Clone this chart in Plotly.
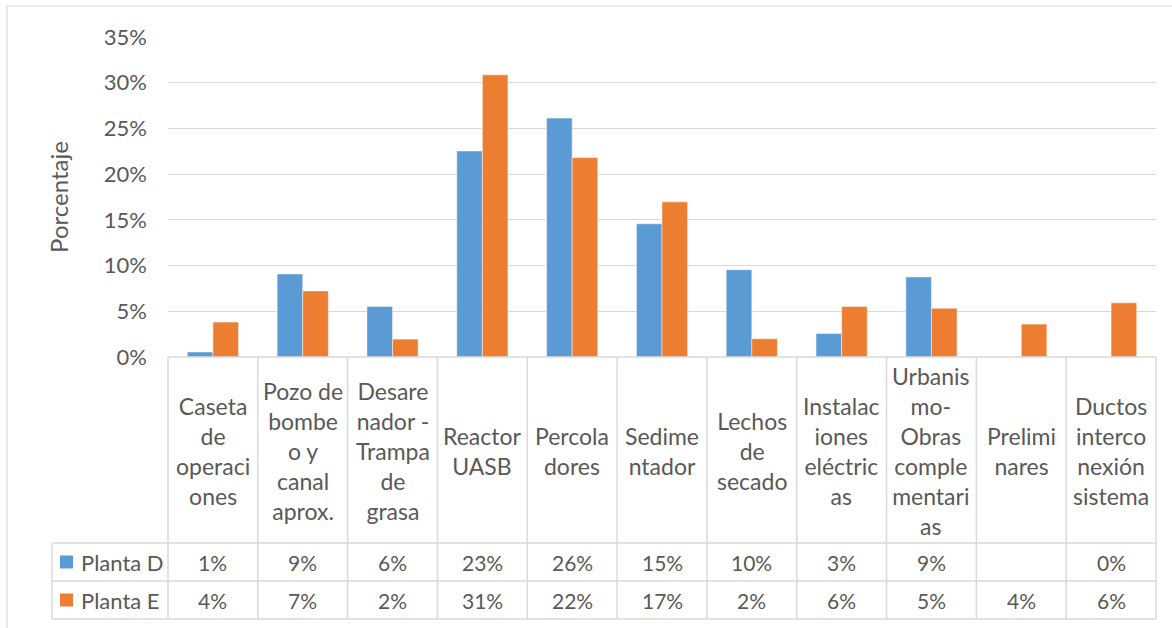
import plotly.graph_objects as go

# ---------------- data ----------------
categories = [
    "Caseta<br>de<br>operaci<br>ones",
    "Pozo de<br>bombe<br>o y<br>canal<br>aprox.",
    "Desare<br>nador -<br>Trampa<br>de<br>grasa",
    "Reactor<br>UASB",
    "Percola<br>dores",
    "Sedime<br>ntador",
    "Lechos<br>de<br>secado",
    "Instalac<br>iones<br>eléctric<br>as",
    "Urbanis<br>mo-<br>Obras<br>comple<br>mentari<br>as",
    "Prelimi<br>nares",
    "Ductos<br>interco<br>nexión<br>sistema",
]
planta_d = [0.0055, 0.0908, 0.0552, 0.2253, 0.2613, 0.1457, 0.0955, 0.0257, 0.0876, None, 0.0]
planta_e = [0.0382, 0.0723, 0.0196, 0.3086, 0.2181, 0.1697, 0.0200, 0.0552, 0.0534, 0.0360, 0.0592]
series_names = ["Planta D", "Planta E"]
series_colors = ["#5B9BD5", "#ED7D31"]
y_ticks = [0, 0.05, 0.10, 0.15, 0.20, 0.25, 0.30, 0.35]

# ---------------- layout helpers ----------------
W, H = 1172, 628
L, R, T, B = 168, 1156, 37, 357
FONT = "Lato, Carlito, Calibri, sans-serif"
TXT = "#595959"
GRID = "#D9D9D9"


def px2x(px):
    return (px - L) / (R - L)


def py2y(py):
    return (B - py) / (B - T)


fig = go.Figure()
for name, vals, col in zip(series_names, [planta_d, planta_e], series_colors):
    fig.add_trace(go.Bar(
        x=categories, y=vals, name=name,
        marker=dict(color=col, line=dict(color="rgba(255,255,255,0.6)", width=0.8)),
        showlegend=False, hoverinfo="skip",
    ))

shapes = []
annotations = []
n = len(categories)

# outer chart border
shapes.append(dict(type="rect", xref="paper", yref="paper",
                   x0=px2x(7), x1=px2x(1190), y0=py2y(6), y1=py2y(650),
                   line=dict(color=GRID, width=1.2), fillcolor="rgba(0,0,0,0)", layer="below"))

# data table grid
row_tops = [357, 543, 581, 619]
for i in range(n + 1):
    shapes.append(dict(type="line", xref="paper", yref="paper",
                       x0=i / n, x1=i / n, y0=py2y(357), y1=py2y(619),
                       line=dict(color=GRID, width=1.5)))
for yy in row_tops:
    x0 = 0 if yy == 357 else px2x(52)
    shapes.append(dict(type="line", xref="paper", yref="paper",
                       x0=x0, x1=1, y0=py2y(yy), y1=py2y(yy),
                       line=dict(color=GRID, width=1.5)))
shapes.append(dict(type="line", xref="paper", yref="paper",
                   x0=px2x(52), x1=px2x(52), y0=py2y(543), y1=py2y(619),
                   line=dict(color=GRID, width=1.5)))

# header labels
for c in categories:
    annotations.append(dict(xref="x", yref="paper", x=c, y=py2y(451),
                            text=c, showarrow=False, yanchor="middle", xanchor="center",
                            font=dict(family=FONT, size=23, color=TXT)))

# table values + legend keys
row_centers = [562, 600]
for name, vals, col, yc in zip(series_names, [planta_d, planta_e], series_colors, row_centers):
    for c, v in zip(categories, vals):
        txt = "" if v is None else f"{round(v * 100)}%"
        annotations.append(dict(xref="x", yref="paper", x=c, y=py2y(yc),
                                text=txt, showarrow=False, yanchor="middle",
                                font=dict(family=FONT, size=21, color=TXT)))
    shapes.append(dict(type="rect", xref="paper", yref="paper",
                       x0=px2x(60), x1=px2x(73), y0=py2y(yc - 6.5), y1=py2y(yc + 6.5),
                       fillcolor=col, line=dict(width=0)))
    annotations.append(dict(xref="paper", yref="paper", x=px2x(79), y=py2y(yc),
                            text=name, showarrow=False, xanchor="left", yanchor="middle",
                            font=dict(family=FONT, size=22, color=TXT)))

fig.update_layout(
    width=W, height=H,
    margin=dict(l=L, r=W - R, t=T, b=H - B, pad=0),
    paper_bgcolor="white", plot_bgcolor="white",
    barmode="group", bargap=0.43, bargroupgap=0,
    shapes=shapes, annotations=annotations,
    font=dict(family=FONT, color=TXT),
)
fig.update_xaxes(showticklabels=False, showgrid=False, zeroline=False,
                 showline=False, ticks="", range=[-0.5, n - 0.5])
fig.update_yaxes(range=[0, 0.35], tickvals=y_ticks, tickformat=".0%",
                 showgrid=True, gridcolor=GRID, gridwidth=1.2, zeroline=False,
                 showline=False, ticklabelstandoff=20,
                 tickfont=dict(family=FONT, size=22, color=TXT),
                 title=dict(text="Porcentaje", standoff=28,
                            font=dict(family=FONT, size=24, color=TXT)))

fig.write_html("out.html", config={"displayModeBar": False},
               post_script="document.body.style.margin='0';document.body.style.overflow='hidden';")
